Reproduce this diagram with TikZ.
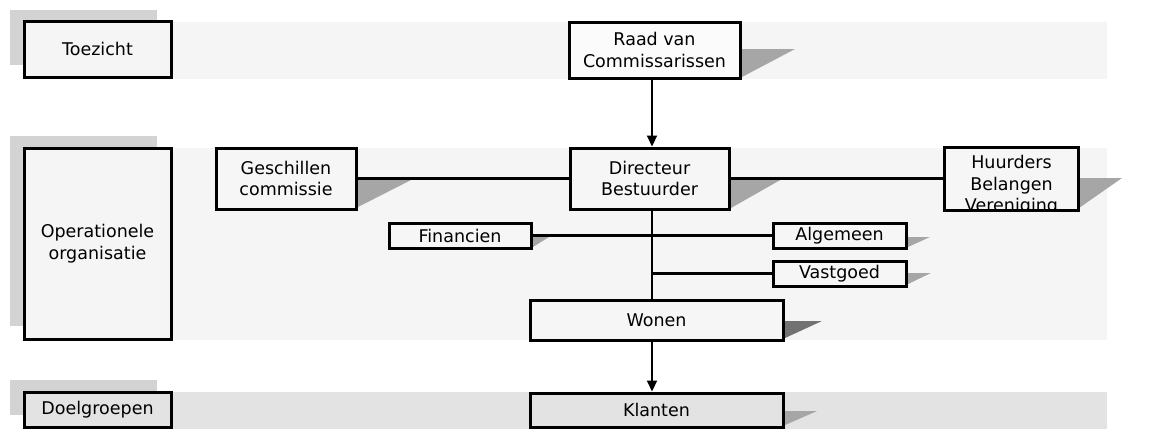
\documentclass[tikz,border=0pt]{standalone}
\usepackage{fontspec}
\setmainfont{DejaVu Sans}
\usetikzlibrary{arrows.meta}
\definecolor{bandlight}{HTML}{F5F5F5}
\definecolor{banddark}{HTML}{E3E3E3}
\definecolor{tabshade}{HTML}{D3D3D3}
\definecolor{dropshade}{HTML}{A6A6A6}
\definecolor{dropdark}{HTML}{727272}
\definecolor{boxfill}{HTML}{F6F6F6}
\tikzset{
  boxline/.style={draw=black, line width=3pt},
  orgbox/.style={boxline, fill=boxfill, inner sep=0pt,
    align=center, font=\fontsize{17.5}{21.5}\selectfont},
  link/.style={draw=black, line width=2.1pt},
  flow/.style={link, -{Triangle[length=11pt,width=10pt]}}
}
\begin{document}
\begin{tikzpicture}[x=1pt,y=-1pt]
\useasboundingbox (0,0) rectangle (1155,429);

% horizontal bands of the three levels
\fill[bandlight] (172,22) rectangle (1107,79);
\fill[bandlight] (172,148) rectangle (1107,340);
\fill[banddark] (172,392) rectangle (1107,429);

% shaded tabs behind the level labels
\fill[tabshade] (10,10) rectangle (157,65);
\fill[tabshade] (10,136) rectangle (157,326);
\fill[tabshade] (10,380) rectangle (157,415);

% drop shadows of the boxes
\fill[dropshade] (740,49) -- (795,49) -- (742,77) -- cycle;
\fill[dropshade] (356,178) -- (415,178) -- (358,207) -- cycle;
\fill[dropshade] (729,179) -- (782,179) -- (731,208) -- cycle;
\fill[dropshade] (1077,178) -- (1122,178) -- (1079,208) -- cycle;
\fill[dropshade] (531,237) -- (549,237) -- (533,247) -- cycle;
\fill[dropshade] (906,237) -- (930,237) -- (908,247) -- cycle;
\fill[dropshade] (906,273) -- (931,273) -- (908,284) -- cycle;
\fill[dropdark] (783,321) -- (822,321) -- (785,338) -- cycle;
\fill[dropshade] (783,411) -- (817,411) -- (785,425) -- cycle;

% level labels
\node[orgbox, fill=bandlight, minimum width=147pt, minimum height=56pt] (toezicht) at (97.5,49) {Toezicht};
\node[orgbox, fill=bandlight, minimum width=147pt, minimum height=191pt] (oper) at (97.5,243.5) {Operationele\\organisatie};
\node[orgbox, fill=banddark, minimum width=147pt, minimum height=35pt] (doel) at (97.5,409.5) {Doelgroepen};

% organisation boxes
\node[orgbox, fill=white!60!boxfill, minimum width=171pt, minimum height=56pt] (raad) at (654.5,50) {Raad van\\Commissarissen};
\node[orgbox, minimum width=140pt, minimum height=61pt] (gesch) at (286,178.5) {Geschillen\\commissie};
\node[orgbox, minimum width=159pt, minimum height=61pt] (dir) at (649.5,178.5) {Directeur\\Bestuurder};
\node[orgbox, draw=none, minimum width=131pt, minimum height=60pt] (huur) at (1011.5,178.5) {};
\begin{scope}
  \clip (huur.south west) rectangle (huur.north east);
  \node[align=center, font=\fontsize{17.5}{21.5}\selectfont, inner sep=0pt] at ([yshift=-7pt]huur.center) {Huurders\\Belangen\\Vereniging};
\end{scope}
\draw[boxline] (huur.south west) rectangle (huur.north east);
\node[orgbox, minimum width=142pt, minimum height=25pt] (fin) at (460,235.5) {Financien};
\node[orgbox, minimum width=133pt, minimum height=25pt] (alg) at (839.5,235.5) {Algemeen};
\node[orgbox, minimum width=133pt, minimum height=25pt] (vast) at (839.5,273.5) {Vastgoed};
\node[orgbox, minimum width=253pt, minimum height=40pt] (wonen) at (656.5,320) {Wonen};
\node[orgbox, fill=banddark, minimum width=253pt, minimum height=34pt] (klanten) at (656.5,410) {Klanten};

% vertical spine of the line organisation
\coordinate (spine) at (652,0);

% connectors
\draw[flow] (raad.south -| spine) -- (dir.north -| spine);
\draw[link] (gesch.east) -- (dir.west);
\draw[link] (dir.east) -- (huur.west);
\draw[link] (fin.east) -- (alg.west);
\draw[link] (dir.south -| spine) -- (wonen.north -| spine);
\draw[link] (vast.west -| spine) -- (vast.west);
\draw[flow] (wonen.south -| spine) -- (klanten.north -| spine);
\end{tikzpicture}
\end{document}
